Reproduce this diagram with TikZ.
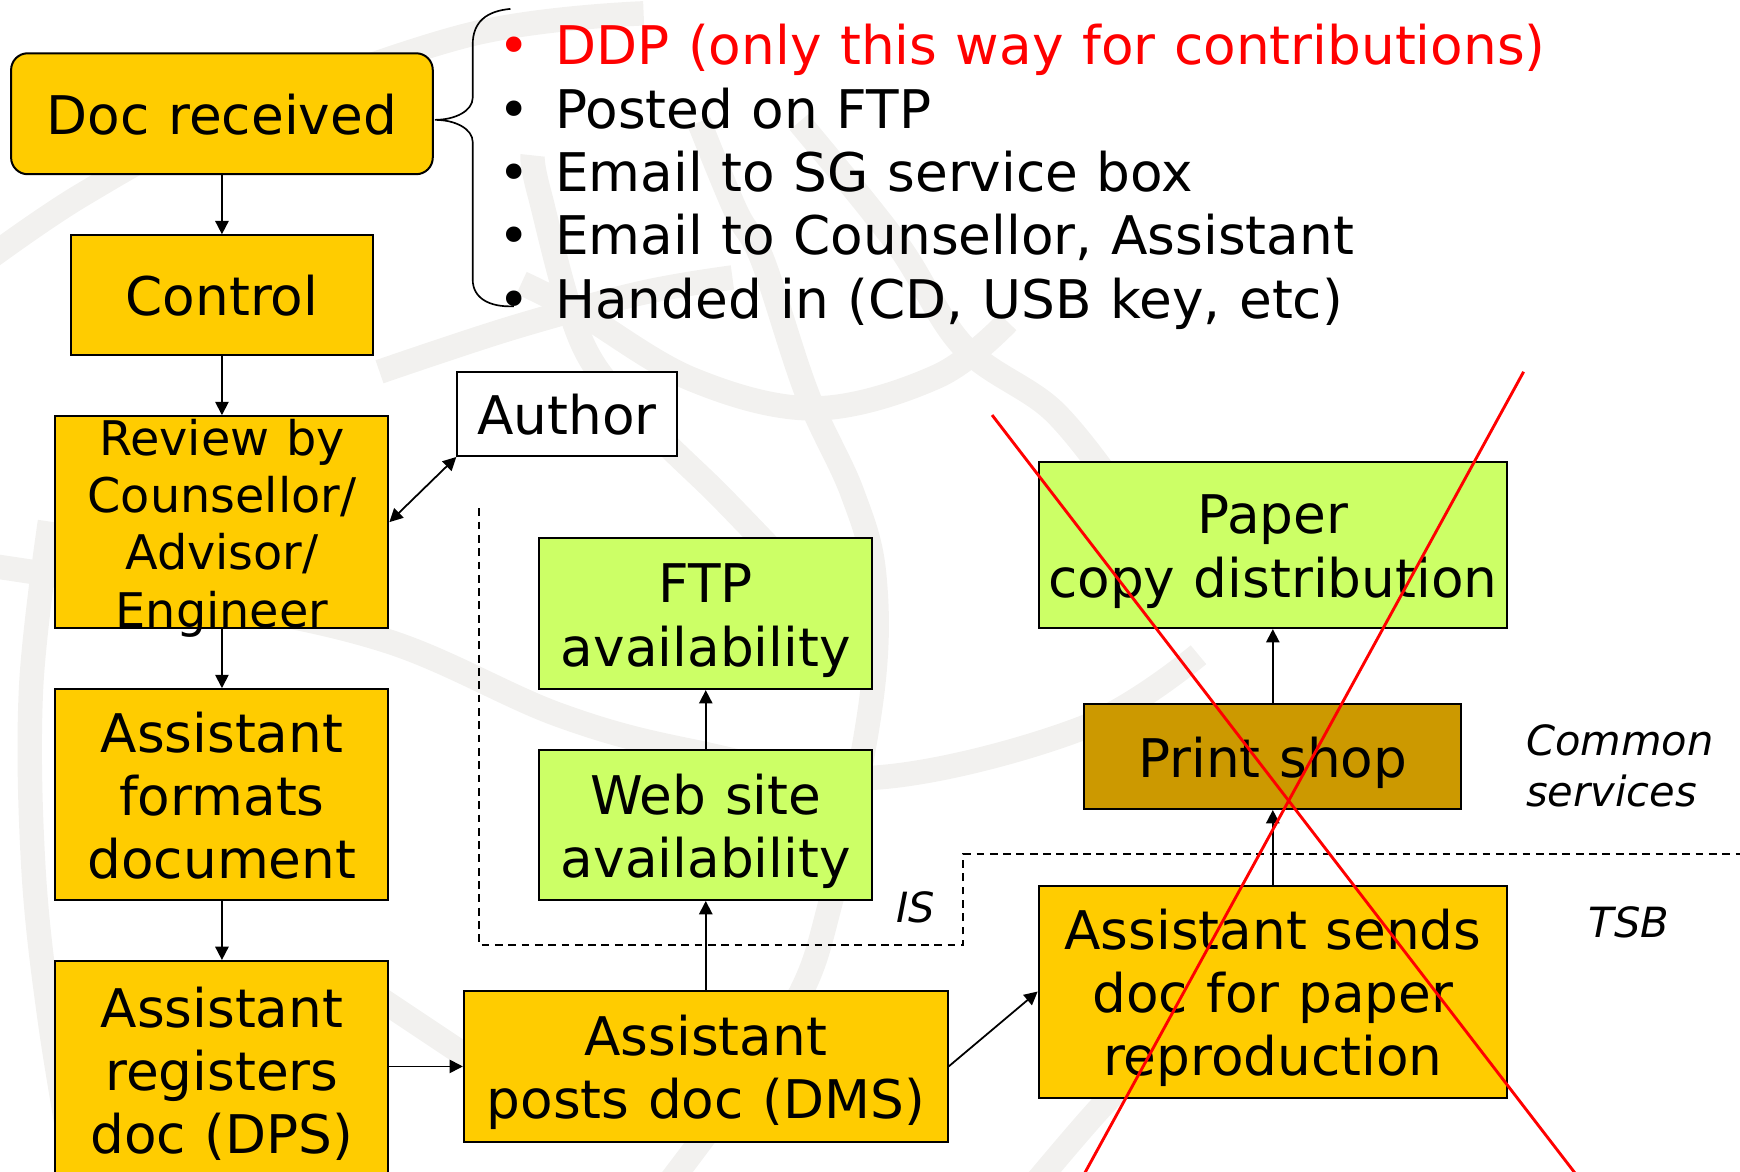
\documentclass[tikz,border=0pt]{standalone}
\usepackage{fontspec}
\setmainfont{DejaVu Sans}[WordSpace=1.1]
\usetikzlibrary{arrows.meta}
\definecolor{gold}{HTML}{FFCC00}
\definecolor{lgreen}{HTML}{CCFF66}
\definecolor{shopbrown}{HTML}{CC9900}
\definecolor{wmgrey}{HTML}{F2F1EF}
\newcommand\fsmain{\fontsize{24}{28.5}\selectfont}
\newcommand\fsrev{\fontsize{21.5}{25.75}\selectfont}
\newcommand\fsital{\fontsize{18.75}{23}\selectfont\itshape}
\newcommand\boxtext[1]{\rule{0pt}{27.25pt}\begin{tabular}[t]{@{}c@{}}#1\end{tabular}}
\begin{document}
\begin{tikzpicture}[x=0.5pt,y=-0.5pt,
  box/.style={draw=black,line width=0.9pt,inner sep=0pt,font=\fsmain},
  goldbox/.style={box,fill=gold},
  greenbox/.style={box,fill=lgreen},
  shopbox/.style={box,fill=shopbrown},
  authorbox/.style={box,fill=white,line width=0.8pt},
  arr/.style={-{Triangle[length=6pt,width=6pt]},line width=0.8pt},
  darr/.style={{Triangle[length=6pt,width=6pt]}-{Triangle[length=6pt,width=6pt]},line width=0.8pt},
  region/.style={dash pattern=on 3.5pt off 2.5pt,line width=0.9pt},
  cross/.style={red,line width=1.3pt},
  wm/.style={draw=wmgrey,line width=11pt},
  itl/.style={font=\fsital,align=left,inner sep=0pt},
  item/.style={font=\fsmain,anchor=base west,inner sep=0pt},
]
\useasboundingbox (0,0) rectangle (1568,1056);
% watermark
\begin{scope}
\clip (0,0) rectangle (1568,1056);
\draw[wm] plot[smooth,tension=0.6] coordinates {(-20,240) (75,175) (200,110) (420,32) (580,12)};
\draw[wm] plot[smooth,tension=0.6] coordinates {(-20,508) (180,540) (350,578) (503,644) (624,677) (785,701) (973,657) (1080,590)};
\draw[wm] plot[smooth,tension=0.6] coordinates {(342,335) (463,295) (578,264) (660,250)};
\draw[wm] plot[smooth,tension=0.6] coordinates {(470,255) (523,282) (624,342) (735,368) (845,339) (908,290)};
\draw[wm] plot[smooth,tension=0.6] coordinates {(630,110) (663,190) (687,234) (727,354) (768,444) (788,520) (785,632) (749,811) (710,916) (600,1070)};
\draw[wm] plot[smooth,tension=0.6] coordinates {(720,110) (808,219) (868,312) (949,370) (1009,445)};
\draw[wm] plot[smooth,tension=0.6] coordinates {(480,140) (486,174) (526,312) (586,385) (647,445) (700,500)};
\draw[wm] plot[smooth,tension=0.6] coordinates {(45,470) (28,620) (30,780) (45,920) (70,1070)};
\draw[wm] plot[smooth,tension=0.6] coordinates {(320,885) (380,925) (440,965)};
\draw[wm] plot[smooth,tension=0.6] coordinates {(1040,950) (990,1000) (930,1070)};
\end{scope}
% boxes
\node[goldbox,rounded corners=7.5pt,minimum width=190pt,minimum height=54.5pt] (doc) at (200,102.5) {\boxtext{Doc received}};
\node[goldbox,minimum width=136pt,minimum height=54pt] (control) at (200,266) {\boxtext{Control}};
\node[goldbox,minimum width=150pt,minimum height=95.5pt] (review) at (200,470.5) {};
\node[font=\fsrev,align=center,inner sep=0pt] (revtext) at (200,476) {Review by\\Counsellor/\\Advisor/\\Engineer};
\node[authorbox,minimum width=99pt,minimum height=38pt] (author) at (511,373) {\boxtext{Author}};
\node[goldbox,minimum width=150pt,minimum height=95pt] (formats) at (200,716) {\boxtext{Assistant\\formats\\document}};
\node[goldbox,minimum width=150pt,minimum height=98pt] (registers) at (200,964) {\boxtext{Assistant\\registers\\doc (DPS)}};
\node[goldbox,minimum width=218pt,minimum height=68pt] (posts) at (636,961) {\boxtext{Assistant\\posts doc (DMS)}};
\node[greenbox,minimum width=150pt,minimum height=67.5pt] (web) at (636,743.5) {\boxtext{Web site\\availability}};
\node[greenbox,minimum width=150pt,minimum height=68pt] (ftp) at (636,553) {\boxtext{FTP\\availability}};
\node[goldbox,minimum width=211pt,minimum height=95.5pt] (sends) at (1147,893.5) {\boxtext{Assistant sends\\doc for paper\\reproduction}};
\node[shopbox,minimum width=170pt,minimum height=47.5pt] (shop) at (1147,681.5) {\boxtext{Print shop}};
\node[greenbox,minimum width=211pt,minimum height=75pt] (paper) at (1147,491) {\boxtext{Paper\\copy distribution}};
% labels
\node[itl,anchor=west] (common) at (1375,690) {Common\\services};
\node[itl] (tsb) at (1468,831) {TSB};
\node[itl] (is) at (825,818) {IS};
% list
\draw[line width=0.75pt] (460,8) .. controls (438,10) and (426,20) .. (426,40) -- (426,88)
  .. controls (426,100) and (410,108) .. (392,108)
  .. controls (410,108) and (426,116) .. (426,128) -- (426,252)
  .. controls (426,268) and (440,277) .. (463,276);
\node[item,text=red] (i1) at (449,58) {\makebox[25.5pt][l]{•}DDP (only this way for contributions)};
\node[item] (i2) at (449,115.5) {\makebox[25.5pt][l]{•}Posted on FTP};
\node[item] (i3) at (449,172.5) {\makebox[25.5pt][l]{•}Email to SG service box};
\node[item] (i4) at (449,229.5) {\makebox[25.5pt][l]{•}Email to Counsellor, Assistant};
\node[item] (i5) at (449,287) {\makebox[25.5pt][l]{•}Handed in (CD, USB key, etc)};
% connectors
\draw[arr] (doc) -- (control);
\draw[arr] (control) -- (review);
\draw[arr] (review) -- (formats);
\draw[arr] (formats) -- (registers);
\draw[arr] (registers.east |- posts.west) -- (posts.west);
\draw[arr] (posts) -- (web);
\draw[arr] (web) -- (ftp);
\draw[arr] (posts.east) -- (sends.west);
\draw[arr] (sends) -- (shop);
\draw[arr] (shop) -- (paper);
\draw[darr] (review.east) -- (author.south west);
% region boundary
\draw[region] (432,458) -- (432,852) -- (868,852) -- (868,770) -- (1568,770);
% red cross
\draw[cross] (894,374) -- (1420,1058);
\draw[cross] (1373,335) -- (977,1058);
\end{tikzpicture}
\end{document}
